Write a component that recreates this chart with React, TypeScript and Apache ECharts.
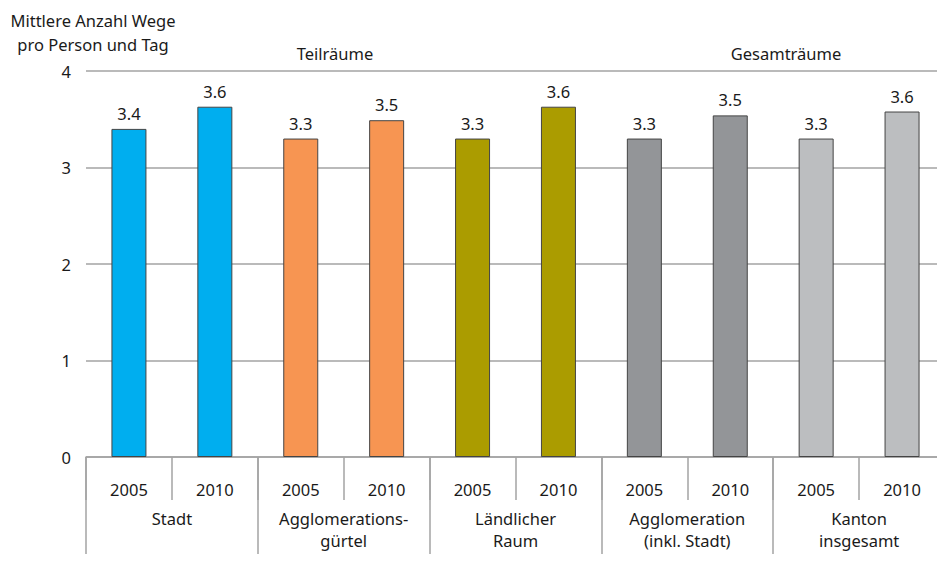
import React, { useEffect, useRef } from "react";
import * as echarts from "echarts";

const groups = [
  "Stadt",
  "Agglomerations-\ngürtel",
  "Ländlicher\nRaum",
  "Agglomeration\n(inkl. Stadt)",
  "Kanton\ninsgesamt",
];
const years = ["2005", "2010"];
const values2005 = [3.4, 3.3, 3.3, 3.3, 3.3];
const values2010 = [3.63, 3.49, 3.63, 3.54, 3.58];
const groupColors = ["#00AEEF", "#F79552", "#AB9C00", "#939598", "#BCBEC0"];
const yTicks = [0, 1, 2, 3, 4];
const yAxisTitle = "Mittlere Anzahl Wege\npro Person und Tag";
const sectionTitles = ["Teilräume", "Gesamträume"];

const FONT = "'Noto Sans', 'Open Sans', sans-serif";
const FS = 16.5;
const TXT = "#1a1a1a";

export default function App() {
  const ref = useRef<HTMLDivElement>(null);
  useEffect(() => {
    if (!ref.current) return;
    const chart = echarts.init(ref.current, undefined, { renderer: "svg" });
    const yearCats: string[] = [];
    const data: any[] = [];
    groups.forEach((g, i) => {
      [values2005[i], values2010[i]].forEach((v, j) => {
        yearCats.push(years[j]);
        data.push({ value: v, itemStyle: { color: groupColors[i] } });
      });
    });
    const axisGray = "#a3a3a3";
    chart.setOption({
      animation: false,
      textStyle: { fontFamily: FONT },
      grid: { left: 86, right: -3, top: 71, bottom: 105 },
      xAxis: [
        {
          type: "category",
          data: yearCats,
          position: "bottom",
          axisLine: { lineStyle: { color: axisGray, width: 1.5 } },
          axisTick: { show: true, interval: 0, length: 43, lineStyle: { color: axisGray, width: 1.5 } },
          axisLabel: { interval: 0, margin: 24, fontSize: FS, color: TXT, fontFamily: FONT },
        },
        {
          type: "category",
          data: groups,
          position: "bottom",
          offset: 0,
          axisLine: { show: false },
          axisTick: { show: true, interval: 0, length: 130, lineStyle: { color: axisGray, width: 1.5 } },
          axisLabel: { interval: 0, margin: 50, fontSize: FS, lineHeight: 22, color: TXT, fontFamily: FONT },
        },
      ],
      yAxis: {
        type: "value",
        min: yTicks[0],
        max: yTicks[yTicks.length - 1],
        interval: 1,
        axisLine: { show: false },
        axisTick: { show: false },
        axisLabel: { margin: 15, fontSize: FS, color: TXT, fontFamily: FONT },
        splitLine: { lineStyle: { color: axisGray, width: 1.5 } },
      },
      series: [
        {
          type: "bar",
          xAxisIndex: 0,
          data,
          barWidth: 35,
          itemStyle: { borderColor: "#444", borderWidth: 1 },
          label: {
            show: true,
            position: "top",
            distance: 7,
            fontSize: FS,
            color: TXT,
            fontFamily: FONT,
            formatter: (p: any) => Number(p.value).toFixed(1),
          },
        },
      ],
      graphic: [
        {
          type: "text",
          x: 93,
          y: 8,
          style: {
            text: yAxisTitle,
            fontSize: FS,
            lineHeight: 24,
            fill: TXT,
            align: "center",
            fontFamily: FONT,
          },
        },
        {
          type: "text",
          x: 335,
          y: 45,
          style: { text: sectionTitles[0], fontSize: FS, fill: TXT, align: "center", fontFamily: FONT },
        },
        {
          type: "text",
          x: 786,
          y: 45,
          style: { text: sectionTitles[1], fontSize: FS, fill: TXT, align: "center", fontFamily: FONT },
        },
      ],
    });
    return () => chart.dispose();
  }, []);
  return <div ref={ref} style={{ width: 945, height: 562, margin: -8 }} />;
}
